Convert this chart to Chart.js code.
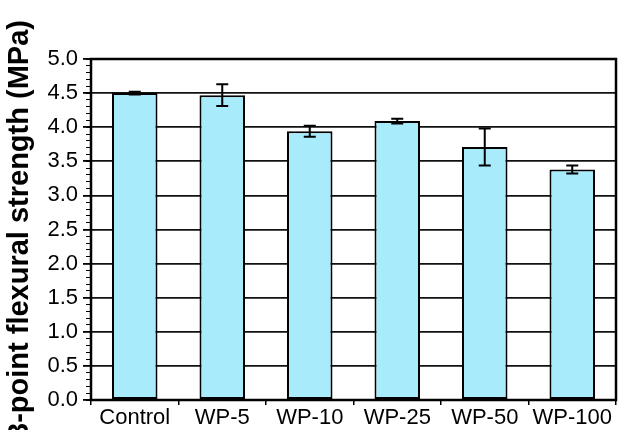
<!DOCTYPE html>
<html>
<head>
<meta charset="utf-8">
<script src="https://cdn.jsdelivr.net/npm/chart.js@4/dist/chart.umd.min.js"></script>
<style>
  html, body { margin: 0; padding: 0; background: #fff; }
  #wrap { width: 619px; height: 430px; }
</style>
</head>
<body>
<div id="wrap"><canvas id="c" width="619" height="430"></canvas></div>
<script>
// Flexural strength by mix
const categories = ['Control', 'WP-5', 'WP-10', 'WP-25', 'WP-50', 'WP-100'];
const strength = [4.50, 4.47, 3.94, 4.09, 3.71, 3.38];
const strengthErr = [0.02, 0.16, 0.08, 0.035, 0.27, 0.06];
const yTicks = [0, 0.5, 1.0, 1.5, 2.0, 2.5, 3.0, 3.5, 4.0, 4.5, 5.0];

const FONT = 'Liberation Sans, Arial, Helvetica, sans-serif';

// Error bars drawn on top of the bars
const errorBars = {
  id: 'errorBars',
  afterDatasetsDraw(chart) {
    const ctx = chart.ctx;
    const meta = chart.getDatasetMeta(0);
    const y = chart.scales.y;
    ctx.save();
    ctx.strokeStyle = '#000';
    ctx.lineWidth = 2;
    meta.data.forEach((bar, i) => {
      const v = strength[i], e = strengthErr[i];
      const yTop = y.getPixelForValue(v + e);
      const yBot = y.getPixelForValue(v - e);
      const x = bar.x;
      const cap = 6;
      ctx.beginPath();
      ctx.moveTo(x, yTop); ctx.lineTo(x, yBot);
      ctx.moveTo(x - cap, yTop); ctx.lineTo(x + cap, yTop);
      ctx.moveTo(x - cap, yBot); ctx.lineTo(x + cap, yBot);
      ctx.stroke();
    });
    ctx.restore();
  }
};

// Frame around the plotting area
const frame = {
  id: 'frame',
  afterDraw(chart) {
    const a = chart.chartArea;
    const ctx = chart.ctx;
    ctx.save();
    ctx.strokeStyle = '#000';
    ctx.lineWidth = 2.5;
    ctx.strokeRect(a.left, a.top, a.right - a.left, a.bottom - a.top);
    ctx.restore();
  }
};

new Chart(document.getElementById('c'), {
  type: 'bar',
  data: {
    labels: categories,
    datasets: [{
      data: strength,
      backgroundColor: '#A8ECFC',
      borderColor: '#000',
      borderWidth: 2,
      borderSkipped: false,
      categoryPercentage: 1.0,
      barPercentage: 0.52
    }]
  },
  options: {
    responsive: false,
    animation: false,
    layout: { padding: { top: 59, right: 3, left: 0, bottom: 0 } },
    plugins: { legend: { display: false }, tooltip: { enabled: false } },
    scales: {
      x: {
        type: 'category',
        offset: true,
        grid: { display: true, offset: true, drawOnChartArea: false, color: '#000', lineWidth: 1.5, tickLength: 5 },
        border: { display: true, color: '#000', width: 2 },
        ticks: { color: '#000', font: { family: FONT, size: 22 }, padding: 0, maxRotation: 0, autoSkip: false },
        afterFit(s) { s.height = 30; }
      },
      y: {
        position: 'left',
        weight: 1,
        min: 0,
        max: 5,
        afterBuildTicks(s) { s.ticks = yTicks.map(v => ({ value: v })); },
        grid: { color: '#111', lineWidth: 1.8, tickLength: 8, tickColor: '#000' },
        border: { display: true, color: '#000', width: 2 },
        ticks: {
          color: '#000',
          font: { family: FONT, size: 22 },
          padding: 5,
          callback: v => Number(v).toFixed(1)
        },
        title: {
          display: true,
          text: '3-point flexural strength (MPa)',
          color: '#000',
          font: { family: FONT, size: 29, weight: 'bold' },
          padding: { top: 3, bottom: 0 }
        },
        afterFit(s) { s.width = 91; }
      },
      yMinor: {
        position: 'left',
        weight: 0,
        min: 0,
        max: 5,
        afterBuildTicks(s) {
          const t = [];
          for (let i = 0; i <= 50; i++) t.push({ value: i / 10 });
          s.ticks = t;
        },
        grid: { drawOnChartArea: false, tickLength: 5, tickColor: '#000', lineWidth: 1 },
        border: { display: false },
        ticks: { display: false },
        afterFit(s) { s.width = 0; }
      }
    }
  },
  plugins: [errorBars, frame]
});
</script>
</body>
</html>
